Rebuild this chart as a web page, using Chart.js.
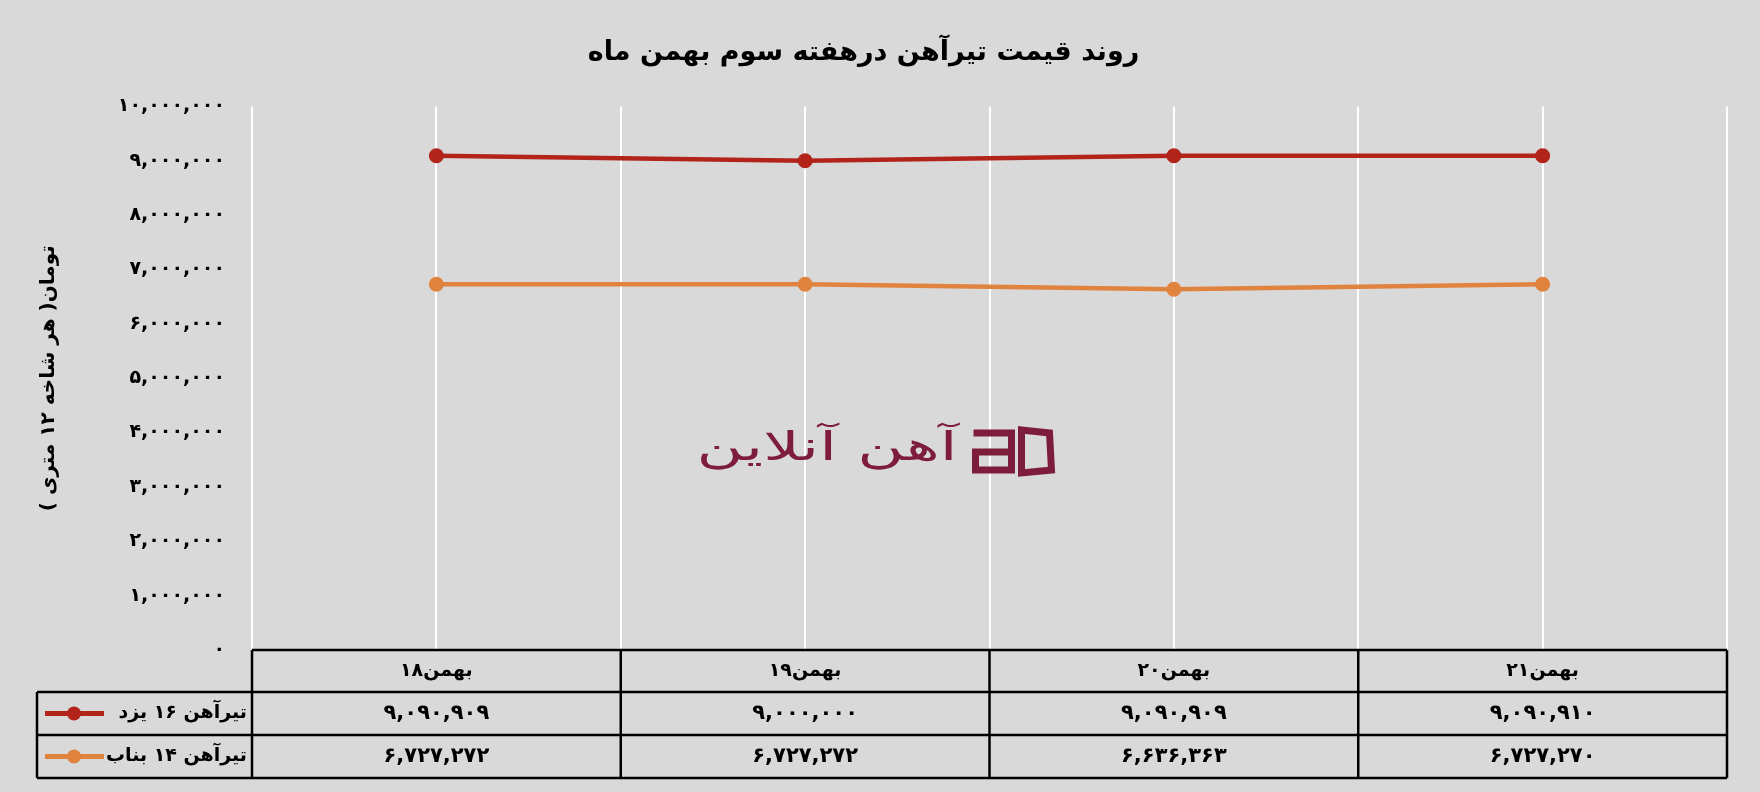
<!DOCTYPE html>
<html>
<head>
<meta charset="utf-8">
<script src="https://cdn.jsdelivr.net/npm/chart.js@4.4.1/dist/chart.umd.min.js"></script>
<style>
  body { margin: 0; background: #d9d9d9; }
  canvas { display: block; }
</style>
</head>
<body>
<canvas id="chart" width="1760" height="792" dir="rtl"></canvas>
<script>
// chart data
const categories = ["۱۸بهمن", "۱۹بهمن", "۲۰بهمن", "۲۱بهمن"];
const seriesNames = ["تیرآهن ۱۶ یزد", "تیرآهن ۱۴ بناب"];
const yazdPrices = [9090909, 9000000, 9090909, 9090910];
const bonabPrices = [6727272, 6727272, 6636363, 6727270];
const yTicks = [0, 1000000, 2000000, 3000000, 4000000, 5000000, 6000000, 7000000, 8000000, 9000000, 10000000];

const titleText = "روند قیمت تیرآهن درهفته سوم بهمن ماه";
const yTitleText = "تومان( هر شاخه ۱۲ متری )";
const watermarkText = "آهن آنلاین";

const colors = ["#b2231a", "#e0833f"];
const FONT = "'DejaVu Sans', sans-serif";

// latin digits -> persian digits
const toFa = s => String(s).replace(/\d/g, d => "۰۱۲۳۴۵۶۷۸۹"[d]);
const fmt = v => toFa(v.toLocaleString("en-US"));

const series = [yazdPrices, bonabPrices];

// background colour
const bgPlugin = {
  id: "bg",
  beforeDraw(chart) {
    const ctx = chart.ctx;
    ctx.save();
    ctx.fillStyle = "#d9d9d9";
    ctx.fillRect(0, 0, chart.width, chart.height);
    ctx.restore();
  }
};

// logo in the middle of the plot
const watermarkPlugin = {
  id: "watermark",
  beforeDatasetsDraw(chart) {
    const ctx = chart.ctx;
    const x = chart.scales.x.getPixelForValue(1.5) - 10;
    const y = 450;
    ctx.save();
    ctx.fillStyle = "#7e1d3b";
    ctx.strokeStyle = "#7e1d3b";
    // wide thin lettering, stretched sideways
    ctx.save();
    ctx.translate(x - 22, y);
    ctx.scale(1.6, 1);
    ctx.font = "40px " + FONT;
    ctx.direction = "rtl";
    ctx.textAlign = "right";
    ctx.textBaseline = "middle";
    ctx.fillText(watermarkText, 0, 0);
    ctx.restore();
    // small "aO" mark
    ctx.lineWidth = 7;
    ctx.beginPath();
    ctx.moveTo(x - 6, y - 17);
    ctx.lineTo(x + 32, y - 17);
    ctx.lineTo(x + 32, y + 20);
    ctx.lineTo(x - 4, y + 20);
    ctx.lineTo(x - 4, y + 2);
    ctx.lineTo(x + 32, y + 2);
    ctx.stroke();
    ctx.beginPath();
    ctx.moveTo(x + 42, y - 20);
    ctx.lineTo(x + 70, y - 17);
    ctx.lineTo(x + 72, y + 20);
    ctx.lineTo(x + 42, y + 23);
    ctx.closePath();
    ctx.stroke();
    ctx.restore();
  }
};

// number + word header, drawn as two pieces so the number stays on the left
function drawHeader(ctx, text, cx, cy) {
  const m = text.match(/^([۰-۹]+)(.*)$/);
  if (!m) { ctx.fillText(text, cx, cy); return; }
  const wNum = ctx.measureText(m[1]).width;
  const wWord = ctx.measureText(m[2]).width;
  const left = cx - (wNum + wWord) / 2;
  ctx.textAlign = "left";
  ctx.fillText(m[1], left, cy);
  ctx.fillText(m[2], left + wNum, cy);
  ctx.textAlign = "center";
}

// data table under the plot
const tablePlugin = {
  id: "dataTable",
  afterDraw(chart) {
    const ctx = chart.ctx;
    const xs = chart.scales.x;
    const top = chart.chartArea.bottom;
    const rows = [top, top + 42, top + 85, top + 128];
    const legendLeft = 37;
    const bounds = [];
    for (let i = 0; i <= categories.length; i++) bounds.push(xs.getPixelForValue(i - 0.5));
    const right = bounds[bounds.length - 1];

    ctx.save();
    ctx.strokeStyle = "#000";
    ctx.lineWidth = 2.5;
    ctx.beginPath();
    ctx.moveTo(bounds[0], rows[0]);
    ctx.lineTo(right, rows[0]);
    for (let r = 1; r < rows.length; r++) {
      ctx.moveTo(legendLeft, rows[r]);
      ctx.lineTo(right, rows[r]);
    }
    bounds.forEach(b => {
      ctx.moveTo(b, rows[0]);
      ctx.lineTo(b, rows[3]);
    });
    ctx.moveTo(legendLeft, rows[1]);
    ctx.lineTo(legendLeft, rows[3]);
    ctx.stroke();

    ctx.fillStyle = "#000";
    ctx.textBaseline = "middle";
    ctx.textAlign = "center";
    ctx.direction = "ltr";

    // header row
    ctx.font = "bold 19px " + FONT;
    categories.forEach((c, i) => {
      drawHeader(ctx, c, xs.getPixelForValue(i), (rows[0] + rows[1]) / 2);
    });

    // values
    ctx.font = "bold 21px " + FONT;
    series.forEach((vals, s) => {
      const cy = (rows[s + 1] + rows[s + 2]) / 2;
      vals.forEach((v, i) => {
        ctx.fillText(fmt(v), xs.getPixelForValue(i), cy);
      });
    });

    // legend keys
    ctx.direction = "rtl";
    ctx.textAlign = "right";
    ctx.font = "bold 19px " + FONT;
    seriesNames.forEach((name, s) => {
      const cy = (rows[s + 1] + rows[s + 2]) / 2;
      ctx.fillText(name, bounds[0] - 5, cy);
      ctx.strokeStyle = colors[s];
      ctx.lineWidth = 5;
      ctx.beginPath();
      ctx.moveTo(45, cy);
      ctx.lineTo(104, cy);
      ctx.stroke();
      ctx.fillStyle = colors[s];
      ctx.beginPath();
      ctx.arc(74, cy, 7, 0, Math.PI * 2);
      ctx.fill();
      ctx.fillStyle = "#000";
    });
    ctx.restore();
  }
};

const ctx = document.getElementById("chart").getContext("2d");
const chart = new Chart(ctx, {
  type: "line",
  data: {
    datasets: series.map((vals, s) => ({
      label: seriesNames[s],
      data: vals.map((v, i) => ({ x: i, y: v })),
      borderColor: colors[s],
      backgroundColor: colors[s],
      pointBackgroundColor: colors[s],
      pointBorderWidth: 0,
      pointRadius: 7.5,
      borderWidth: 4.5,
      tension: 0
    }))
  },
  options: {
    responsive: false,
    devicePixelRatio: 1,
    animation: false,
    layout: { padding: { left: 0, right: 33, top: 0, bottom: 142 } },
    plugins: {
      legend: { display: false },
      tooltip: { enabled: false },
      title: {
        display: true,
        text: titleText,
        color: "#000",
        font: { family: FONT, size: 27, weight: "bold" },
        padding: { top: 37, bottom: 37 }
      }
    },
    scales: {
      x: {
        type: "linear",
        min: -0.5,
        max: 3.5,
        ticks: { display: false, stepSize: 0.5 },
        grid: { color: "#ffffff", lineWidth: 2, drawTicks: false },
        border: { display: false }
      },
      y: {
        min: 0,
        max: 10000000,
        afterBuildTicks: scale => { scale.ticks = yTicks.map(v => ({ value: v })); },
        afterFit: scale => { scale.width = 252; },
        ticks: {
          color: "#000",
          padding: 27,
          font: { family: FONT, size: 19, weight: "bold" },
          callback: v => fmt(v)
        },
        grid: { display: false, drawTicks: false },
        border: { display: false },
        title: {
          display: true,
          text: yTitleText,
          color: "#000",
          font: { family: FONT, size: 20, weight: "bold" },
          padding: { top: 37, bottom: 0 }
        }
      }
    }
  },
  plugins: [bgPlugin, watermarkPlugin, tablePlugin]
});
</script>
</body>
</html>
